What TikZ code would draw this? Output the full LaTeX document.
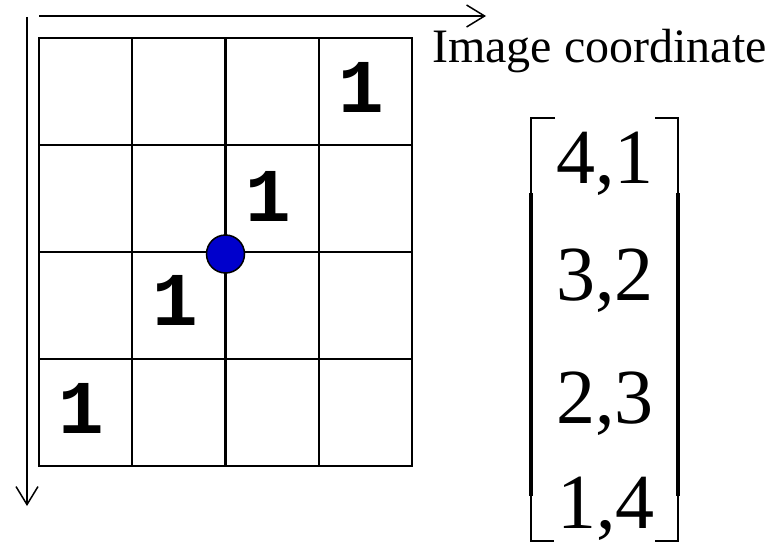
\documentclass[tikz,border=0pt]{standalone}
\usepackage{fontspec}
\setmainfont{Liberation Serif}
\newfontfamily\monofont{Liberation Mono}
\usepackage{tikz}
\usetikzlibrary{positioning,arrows.meta,calc}
\definecolor{dotblue}{RGB}{0,0,204}
\tikzset{
  cell/.style={draw,line width=2.2pt,minimum width=93.25pt,minimum height=107pt,inner sep=0pt,outer sep=0pt},
  one/.style={font=\monofont\bfseries\fontsize{76}{76}\selectfont,inner sep=0pt},
  dot/.style={circle,draw,line width=1.5pt,fill=dotblue,minimum size=38pt,inner sep=0pt},
  axis/.style={line width=1.5pt,-{Straight Barb[length=18pt,width=22pt,line width=1.5pt]}},
  lbl/.style={font=\fontsize{48}{48}\selectfont,inner sep=0pt},
  ent/.style={font=\fontsize{78}{78}\selectfont,inner sep=0pt,anchor=base},
  brk/.style={line width=1.5pt},
  brkmid/.style={line width=3.5pt},
}
\begin{document}
\begin{tikzpicture}[x=1pt,y=-1pt]
  \useasboundingbox (0,0) rectangle (778,551);
  % 4x4 image grid
  \foreach \r in {1,...,4}
    \foreach \c in {1,...,4}
      \node[cell] (c\r\c) at ({39+93.25*(\c-0.5)},{38+107*(\r-0.5)}) {};
  \node[one] (o14) at ([shift={(-4,-4)}]c14) {1};
  \node[one] (o23) at ([shift={(-4,-2)}]c23) {1};
  \node[one] (o32) at ([shift={(-4,-5)}]c32) {1};
  \node[one] (o41) at ([shift={(-4,-4)}]c41) {1};
  \node[dot] (pt) at ([yshift=-2pt]c22.south east) {};
  % axes
  \coordinate (xs) at (39,16);
  \coordinate (xe) at (486,16);
  \coordinate (ys) at (27,17);
  \coordinate (ye) at (27,506);
  \draw[axis] (xs) -- (xe);
  \draw[axis] (ys) -- (ye);
  \node[lbl,anchor=base west] (imgc) at (432,63) {Image coordinate};
  % coordinate list
  \node[ent] (e1) at (605,183) {4,1};
  \node[ent] (e2) at (605,300) {3,2};
  \node[ent] (e3) at (605,423) {2,3};
  \node[ent] (e4) at (606,528) {1,4};
  \draw[brk] (555,118) -- (531,118) -- (531,194);
  \draw[brkmid] (531,193) -- (531,496);
  \draw[brk] (531,495) -- (531,541) -- (554,541);
  \draw[brk] (655,118) -- (678,118) -- (678,194);
  \draw[brkmid] (678,193) -- (678,496);
  \draw[brk] (678,495) -- (678,541) -- (655,541);
\end{tikzpicture}
\end{document}
